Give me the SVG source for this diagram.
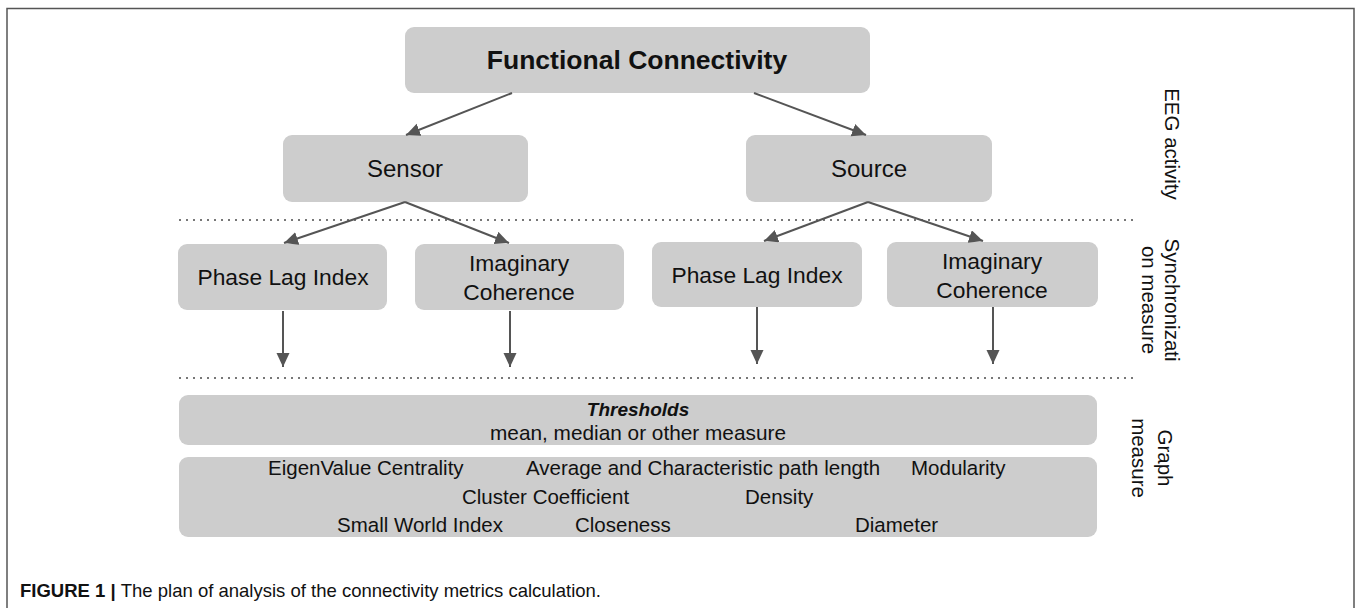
<svg xmlns="http://www.w3.org/2000/svg" width="1358" height="608" viewBox="0 0 1358 608">
  <defs>
    <marker id="arrow" markerUnits="userSpaceOnUse" markerWidth="16" markerHeight="14" refX="14" refY="6.5" orient="auto">
      <path d="M0,0 L14,6.5 L0,13 Z" fill="#555555"/>
    </marker>
    <style>
      .box { fill: #cdcdcd; }
      .lbl { font-family: "Liberation Sans", Arial, sans-serif; fill: #111111; text-anchor: middle; }
      .gm { font-family: "Liberation Sans", Arial, sans-serif; fill: #111111; font-size: 20.5px; }
      .side { font-family: "Liberation Sans", Arial, sans-serif; fill: #111111; font-size: 20.5px; text-anchor: middle; }
      .edge { stroke: #555555; stroke-width: 2; fill: none; marker-end: url(#arrow); }
      .dots { stroke: #777777; stroke-width: 2; stroke-dasharray: 2 5; fill: none; }
    </style>
  </defs>

  <rect width="1358" height="608" fill="#ffffff"/>
  <!-- figure frame (open at the bottom edge) -->
  <path d="M7,620 V8.5 H1354 V620" fill="none" stroke="#555555" stroke-width="1.5"/>

  <!-- layer separators -->
  <g id="separators">
    <line class="dots" x1="179" y1="220" x2="1135" y2="220"/>
    <line class="dots" x1="179" y1="378" x2="1135" y2="378"/>
  </g>

  <g id="functional-connectivity">
    <rect class="box" x="405" y="27" width="465" height="66" rx="9"/>
    <text class="lbl" x="637" y="69" font-size="26.5" font-weight="bold">Functional Connectivity</text>
  </g>

  <g id="sensor">
    <rect class="box" x="283" y="135" width="245" height="67" rx="9"/>
    <text class="lbl" x="405" y="177" font-size="24">Sensor</text>
  </g>

  <g id="source">
    <rect class="box" x="746" y="135" width="246" height="67" rx="9"/>
    <text class="lbl" x="869" y="177" font-size="24">Source</text>
  </g>

  <g id="sensor-pli">
    <rect class="box" x="178" y="244" width="209" height="66" rx="9"/>
    <text class="lbl" x="283" y="285" font-size="22.8">Phase Lag Index</text>
  </g>

  <g id="sensor-icoh">
    <rect class="box" x="415" y="244" width="209" height="66" rx="9"/>
    <text class="lbl" x="519" y="271" font-size="22.8">Imaginary</text>
    <text class="lbl" x="519" y="300" font-size="22.8">Coherence</text>
  </g>

  <g id="source-pli">
    <rect class="box" x="652" y="242" width="210" height="65" rx="9"/>
    <text class="lbl" x="757" y="283" font-size="22.8">Phase Lag Index</text>
  </g>

  <g id="source-icoh">
    <rect class="box" x="887" y="242" width="211" height="65" rx="9"/>
    <text class="lbl" x="992" y="269" font-size="22.8">Imaginary</text>
    <text class="lbl" x="992" y="298" font-size="22.8">Coherence</text>
  </g>

  <g id="thresholds">
    <rect class="box" x="179" y="395" width="918" height="50" rx="9"/>
    <text class="lbl" x="638" y="416" font-size="19" font-weight="bold" font-style="italic">Thresholds</text>
    <text class="lbl" x="638" y="440" font-size="20.8">mean, median or other measure</text>
  </g>

  <g id="graph-measures">
    <rect class="box" x="179" y="457" width="918" height="80" rx="9"/>
    <text class="gm" x="268" y="475">EigenValue Centrality</text>
    <text class="gm" x="526" y="475">Average and Characteristic path length</text>
    <text class="gm" x="911" y="475">Modularity</text>
    <text class="gm" x="462" y="504">Cluster Coefficient</text>
    <text class="gm" x="745" y="504">Density</text>
    <text class="gm" x="337" y="532">Small World Index</text>
    <text class="gm" x="575" y="532">Closeness</text>
    <text class="gm" x="855" y="532">Diameter</text>
  </g>

  <!-- side captions for each layer -->
  <g id="layer-labels">
    <text class="side" transform="translate(1165,144) rotate(90)">EEG activity</text>
    <text class="side" transform="translate(1165,300) rotate(90)">Synchronizati<tspan x="0" dy="23">on measure</tspan></text>
    <text class="side" transform="translate(1158,458) rotate(90)">Graph<tspan x="0" dy="26">measure</tspan></text>
  </g>

  <g id="connectors">
    <line class="edge" x1="512" y1="93" x2="406" y2="135"/>
    <line class="edge" x1="754" y1="93" x2="866" y2="135"/>
    <line class="edge" x1="405" y1="202" x2="284" y2="243"/>
    <line class="edge" x1="405" y1="202" x2="509" y2="243"/>
    <line class="edge" x1="868" y1="202" x2="764" y2="241"/>
    <line class="edge" x1="868" y1="202" x2="983" y2="241"/>
    <line class="edge" x1="283" y1="311" x2="283" y2="367"/>
    <line class="edge" x1="510" y1="311" x2="510" y2="367"/>
    <line class="edge" x1="757" y1="307" x2="757" y2="364"/>
    <line class="edge" x1="993" y1="307" x2="993" y2="364"/>
  </g>

  <g id="caption">
    <text x="20" y="597" font-family="'Liberation Sans', Arial, sans-serif" font-size="18.5" fill="#111111"><tspan font-weight="bold">FIGURE 1 | </tspan>The plan of analysis of the connectivity metrics calculation.</text>
  </g>
</svg>
